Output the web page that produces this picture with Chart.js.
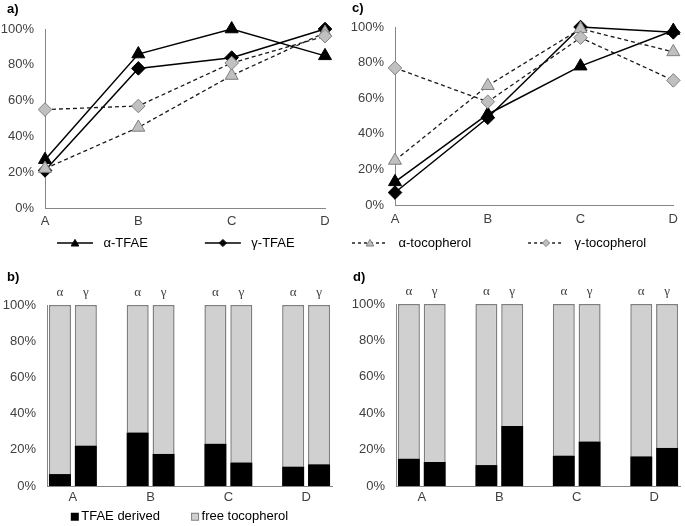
<!DOCTYPE html>
<html><head><meta charset="utf-8">
<script src="https://cdn.jsdelivr.net/npm/chart.js@4"></script>
<style>
html,body{margin:0;padding:0;background:#fff;overflow:hidden;}
#wrap{position:relative;width:685px;height:526px;overflow:hidden;background:#fff;}
canvas{position:absolute;}
.lab{position:absolute;font:bold 13px "Liberation Sans",Arial,sans-serif;color:#000;line-height:16px;}
</style></head><body>
<div id="wrap">
<canvas id="cb" width="344" height="280" style="left:1px;top:255px"></canvas>
<canvas id="cd" width="345" height="271" style="left:340px;top:255px"></canvas>
<canvas id="ca" width="340" height="262" style="left:0;top:0"></canvas>
<canvas id="cc" width="390" height="262" style="left:295px;top:0"></canvas>
<div class="lab" style="left:7px;top:1px">a)</div>
<div class="lab" style="left:352px;top:0px">c)</div>
<div class="lab" style="left:7px;top:269px">b)</div>
<div class="lab" style="left:353px;top:269px">d)</div>
</div>
<script>
// ---------- data ----------
const categories = ['A', 'B', 'C', 'D'];
const seriesLabels = ['α-TFAE', 'γ-TFAE', 'α-tocopherol', 'γ-tocopherol'];
// panel a (line, %)
const aAlphaTFAE = [27, 86, 100, 85];
const aGammaTFAE = [21, 78, 84, 100];
const aAlphaToc  = [22, 45, 74, 98];
const aGammaToc  = [55, 57, 81, 96];
// panel c (line, %)
const cAlphaTFAE = [13, 51, 78, 98];
const cGammaTFAE = [7, 49, 100, 97];
const cAlphaToc  = [25, 67, 99, 86];
const cGammaToc  = [77, 58, 94, 70];
// panels b and d (share of TFAE-derived tocopherol, %)
const barSubLabels = ['α', 'γ'];
const barSeriesLabels = ['TFAE derived', 'free tocopherol'];
const bAlphaTFAE = [6.6, 29.5, 23.4, 10.7];
const bGammaTFAE = [22.3, 17.7, 13.0, 12.0];
const dAlphaTFAE = [15.0, 11.5, 16.7, 16.3];
const dGammaTFAE = [13.2, 33.0, 24.4, 20.9];
const yMax = 100, yStep = 20;

// ---------- styles ----------
const SANS = '"Liberation Sans", Arial, sans-serif';
Chart.defaults.font.family = SANS;
Chart.defaults.font.size = 13;
Chart.defaults.color = '#404040';
const AXIS = '#868686';
const GFILL = '#c0c0c0', GEDGE = '#7f7f7f';
const LEAD = 47;

function legendLine(dashed, shape, fill, edge) {
  const w = LEAD + 44, h = 14, c = document.createElement('canvas');
  c.width = w; c.height = h;
  const g = c.getContext('2d');
  g.strokeStyle = '#000'; g.lineWidth = 1.3;
  if (dashed) g.setLineDash([3, 3]);
  g.beginPath(); g.moveTo(LEAD + 4, 7); g.lineTo(LEAD + 40, 7); g.stroke();
  g.setLineDash([]);
  const cx = LEAD + 22, cy = 7;
  g.beginPath();
  if (shape === 'triangle') { g.moveTo(cx, cy - 3.6); g.lineTo(cx + 3.8, cy + 3); g.lineTo(cx - 3.8, cy + 3); }
  else { g.moveTo(cx, cy - 3.6); g.lineTo(cx + 3.6, cy); g.lineTo(cx, cy + 3.6); g.lineTo(cx - 3.6, cy); }
  g.closePath(); g.fillStyle = fill; g.fill(); g.strokeStyle = edge; g.lineWidth = 1; g.stroke();
  return c;
}
const lineLegendImgs = [
  legendLine(false, 'triangle', '#000', '#000'),
  legendLine(false, 'diamond', '#000', '#000'),
  legendLine(true, 'triangle', GFILL, GEDGE),
  legendLine(true, 'diamond', GFILL, GEDGE)
];
const lineStyles = [
  {borderColor:'#000', borderWidth:1.5, pointStyle:'triangle', pointRadius:7.5, pointBackgroundColor:'#000', pointBorderColor:'#000', pointBorderWidth:1, order:3},
  {borderColor:'#000', borderWidth:1.5, pointStyle:'rectRot', pointRadius:6.8, pointBackgroundColor:'#000', pointBorderColor:'#000', pointBorderWidth:1, order:2},
  {borderColor:'#1a1a1a', borderWidth:1.3, borderDash:[4,3], pointStyle:'triangle', pointRadius:7.5, pointBackgroundColor:GFILL, pointBorderColor:GEDGE, pointBorderWidth:1, order:1},
  {borderColor:'#1a1a1a', borderWidth:1.3, borderDash:[4,3], pointStyle:'rectRot', pointRadius:6.8, pointBackgroundColor:GFILL, pointBorderColor:GEDGE, pointBorderWidth:1, order:0}
];

function lineChart(id, series, legendIdx, geo) {
  const datasets = seriesLabels.map((lbl, i) => Object.assign({
    label: lbl, data: series[i], tension: 0, clip: false, pointHoverRadius: lineStyles[i].pointRadius
  }, lineStyles[i]));
  new Chart(document.getElementById(id), {
    type: 'line',
    data: {labels: categories, datasets},
    options: {
      responsive: false, animation: false, events: [],
      layout: {padding: geo.pad},
      plugins: {
        tooltip: {enabled: false},
        legend: {
          display: true, position: 'bottom', align: 'start',
          labels: {
            usePointStyle: true, pointStyleWidth: LEAD + 44, padding: 6, color: '#404040',
            font: {size: 13, family: SANS},
            generateLabels: () => legendIdx.map(i => ({
              text: seriesLabels[i], pointStyle: lineLegendImgs[i], datasetIndex: i,
              hidden: false, lineWidth: 0, fillStyle: 'rgba(0,0,0,0)', strokeStyle: 'rgba(0,0,0,0)'
            }))
          }
        }
      },
      scales: {
        x: {type: 'category', offset: false, grid: {display: false, drawTicks: false},
            border: {color: AXIS, width: 1}, ticks: {padding: geo.xPad, color: '#404040', maxRotation: 0},
            afterFit: s => { s.height = geo.xH; }},
        y: {min: 0, max: yMax, grid: {display: false, drawTicks: false}, border: {color: AXIS, width: 1},
            ticks: {stepSize: yStep, padding: 11, color: '#404040', callback: v => v + '%'},
            afterFit: s => { s.width = geo.yW; }}
      }
    }
  });
}

function squareImg(fill, edge) {
  const c = document.createElement('canvas');
  c.width = 40; c.height = 10;
  const g = c.getContext('2d');
  g.fillStyle = fill; g.fillRect(31, 1, 8, 8);
  if (edge) { g.strokeStyle = edge; g.lineWidth = 1; g.strokeRect(31.5, 1.5, 7, 7); }
  return c;
}
const barLegendImgs = [squareImg('#000', null), squareImg('#d0d0d0', GEDGE)];

function barChart(id, alpha, gamma, showLegend, geo) {
  const slotLabels = [], tfae = [];
  categories.forEach((c, k) => {
    slotLabels.push(barSubLabels[0], barSubLabels[1]);
    tfae.push(alpha[k], gamma[k]);
    if (k < categories.length - 1) { slotLabels.push(''); tfae.push(null); }
  });
  const free = tfae.map(v => v === null ? null : yMax - v);
  const groupTicks = categories.map((c, k) => 3 * k + 1);
  new Chart(document.getElementById(id), {
    type: 'bar',
    data: {
      labels: slotLabels,
      datasets: [
        {label: barSeriesLabels[0], data: tfae, backgroundColor: '#000', borderColor: '#000', borderWidth: 0,
         barPercentage: 0.85, categoryPercentage: 1, stack: 's'},
        {label: barSeriesLabels[1], data: free, backgroundColor: '#d0d0d0', borderColor: GEDGE,
         borderWidth: {top: 1.5, left: 1.5, right: 1.5, bottom: 0},
         barPercentage: 0.85, categoryPercentage: 1, stack: 's'}
      ]
    },
    options: {
      responsive: false, animation: false, events: [],
      layout: {padding: geo.pad},
      plugins: {
        tooltip: {enabled: false},
        legend: {
          display: showLegend, position: 'bottom', align: 'center',
          labels: {
            usePointStyle: true, pointStyleWidth: 30, padding: 5, color: '#404040',
            font: {size: 13, family: SANS},
            generateLabels: () => barSeriesLabels.map((t, i) => ({
              text: t, pointStyle: barLegendImgs[i], datasetIndex: i,
              hidden: false, lineWidth: 0, fillStyle: 'rgba(0,0,0,0)', strokeStyle: 'rgba(0,0,0,0)'
            }))
          }
        }
      },
      scales: {
        x: {type: 'category', position: 'top', stacked: true, offset: true,
            grid: {display: false, drawTicks: false}, border: {display: false},
            ticks: {font: {family: '"Liberation Serif", "Times New Roman", serif', size: 13}, color: '#404040',
                    padding: 5, autoSkip: false, maxRotation: 0},
            afterFit: s => { s.height = 20; }},
        xb: {type: 'linear', position: 'bottom', min: 0, max: slotLabels.length, offset: false,
             grid: {display: false, drawTicks: false, offset: false}, border: {color: AXIS, width: 1},
             ticks: {padding: 4, color: '#404040', autoSkip: false, maxRotation: 0,
                     callback: v => categories[(v - 1) / 3]},
             afterBuildTicks: s => { s.ticks = groupTicks.map(v => ({value: v})); },
             afterFit: s => { s.height = 19.2; }},
        y: {stacked: true, min: 0, max: yMax, grid: {display: false, drawTicks: false},
            border: {color: AXIS, width: 1},
            ticks: {stepSize: yStep, padding: 11, color: '#404040', callback: v => v + '%'},
            afterFit: s => { s.width = geo.yW; }}
      }
    }
  });
}

lineChart('ca', [aAlphaTFAE, aGammaTFAE, aAlphaToc, aGammaToc], [0, 1],
  {pad: {top: 29, left: 0, right: 15, bottom: 2.5}, xH: 22.5, xPad: 6, yW: 45});
lineChart('cc', [cAlphaTFAE, cGammaTFAE, cAlphaToc, cGammaToc], [2, 3],
  {pad: {top: 27, left: 0, right: 10, bottom: 2.5}, xH: 25.5, xPad: 7, yW: 100});
barChart('cb', bAlphaTFAE, bGammaTFAE, true,
  {pad: {top: 30, left: 0, right: 13, bottom: 1.8}, yW: 46});
barChart('cd', dAlphaTFAE, dGammaTFAE, false,
  {pad: {top: 29, left: 0, right: 5, bottom: 20.8}, yW: 56});
</script>
</body></html>
